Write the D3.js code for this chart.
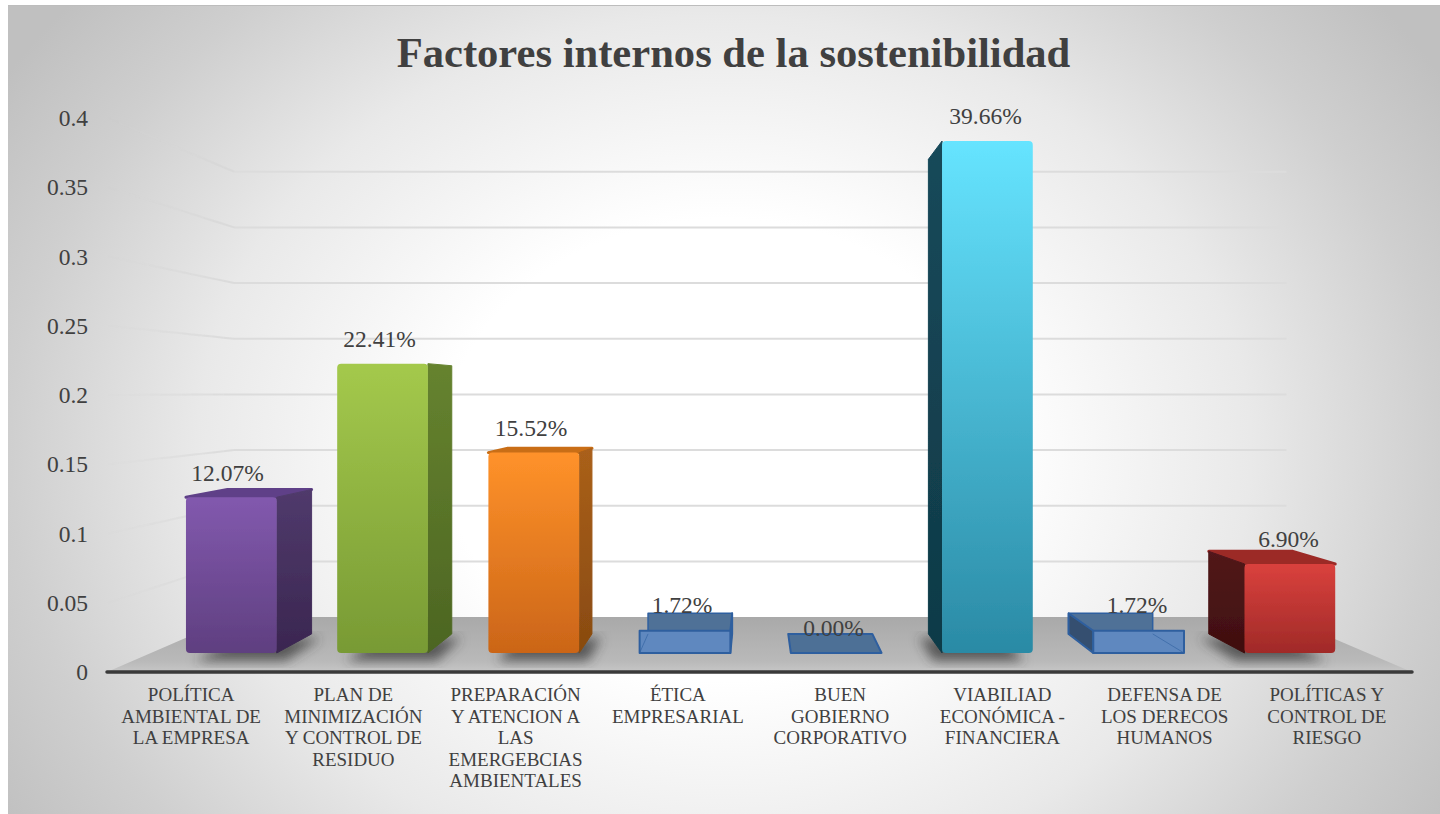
<!DOCTYPE html>
<html><head><meta charset="utf-8">
<script src="https://cdnjs.cloudflare.com/ajax/libs/d3/7.8.5/d3.min.js"></script>
<style>html,body{margin:0;background:#fff}svg{display:block}text{font-family:"Liberation Serif",serif}</style>
</head><body><svg id="c" width="1440" height="814"></svg>
<script>
const categories=["POLÍTICA AMBIENTAL DE LA EMPRESA","PLAN DE MINIMIZACIÓN Y CONTROL DE RESIDUO","PREPARACIÓN Y ATENCION A LAS EMERGEBCIAS AMBIENTALES","ÉTICA EMPRESARIAL","BUEN GOBIERNO CORPORATIVO","VIABILIAD ECONÓMICA - FINANCIERA","DEFENSA DE LOS DERECOS HUMANOS","POLÍTICAS Y CONTROL DE RIESGO"];
const categoryLines=[["POLÍTICA","AMBIENTAL DE","LA EMPRESA"],["PLAN DE","MINIMIZACIÓN","Y CONTROL DE","RESIDUO"],["PREPARACIÓN","Y ATENCION A","LAS","EMERGEBCIAS","AMBIENTALES"],["ÉTICA","EMPRESARIAL"],["BUEN","GOBIERNO","CORPORATIVO"],["VIABILIAD","ECONÓMICA -","FINANCIERA"],["DEFENSA DE","LOS DERECOS","HUMANOS"],["POLÍTICAS Y","CONTROL DE","RIESGO"]];
const values=[0.1207,0.2241,0.1552,0.0172,0,0.3966,0.0172,0.069];
const valueLabels=["12.07%","22.41%","15.52%","1.72%","0.00%","39.66%","1.72%","6.90%"];
const yTicks=[0,0.05,0.1,0.15,0.2,0.25,0.3,0.35,0.4];
const barStyles=[
 {front:["#8259ae","#5f3f80"],side:["#503a6c","#3a2650"],top:"#5f4088"},
 {front:["#a4c94c","#789a34"],side:["#66832f","#4c6522"],top:"#86a83c"},
 {front:["#ff922a","#cb6518"],side:["#aa601a","#884a10"],top:"#c96e18"},
 {glass:true},{glass:true},
 {front:["#66e4ff","#2a8aa5"],side:["#17495a","#0f3a47"],top:"#1f6478"},
 {glass:true},
 {front:["#da413d","#a02a28"],side:["#52171a","#3f0f0f"],top:"#9c2b28"}];

const svg=d3.select("#c"),defs=svg.append("defs");
const VP=[755,392];
const depth={front:0,barFront:0.068,barBack:0.136,back:0.196};
const x=d3.scaleBand().domain(categories).range([112,1410]).paddingInner(0.4).paddingOuter(0.2);
const y=d3.scaleLinear().domain([0,0.4]).range([672,118]);
const proj=(px,py,k)=>[px+k*(VP[0]-px),py+k*(VP[1]-py)];
const poly=pts=>pts.map(p=>p.join(",")).join(" ");

function grad(id,stops,attrs){const g=defs.append(attrs.radial?"radialGradient":"linearGradient").attr("id",id);
 Object.entries(attrs).forEach(([k,v])=>{if(k!=="radial")g.attr(k,v)});
 stops.forEach(s=>g.append("stop").attr("offset",s[0]).attr("stop-color",s[1]).attr("stop-opacity",s[2]==null?1:s[2]));return `url(#${id})`;}

const bgFill=grad("bg",[[0,"#ffffff"],[0.33,"#ffffff"],[0.62,"#e9e9e9"],[0.84,"#cfcfcf"],[1,"#c0c0c0"]],{radial:true,gradientUnits:"userSpaceOnUse",cx:0,cy:0,r:1,gradientTransform:"translate(724,450) scale(850,700)"});
svg.append("rect").attr("x",8).attr("y",5).attr("width",1432).attr("height",809).attr("fill",bgFill);
svg.append("line").attr("x1",8).attr("x2",1440).attr("y1",5.5).attr("y2",5.5).attr("stroke","#bdbdbd").attr("stroke-width",1);

// floor
const fl=[proj(107,y(0),0),proj(1412,y(0),0),proj(1412,y(0),depth.back),proj(107,y(0),depth.back)];
const floorFill=grad("fl",[[0,"#a9a9a9"],[0.8,"#b9b9b9"],[1,"#c6c6c6"]],{x1:0,y1:0,x2:0,y2:1});
// gridlines
yTicks.slice(1).forEach(t=>{
 const a=[108,y(t)],b=proj(107,y(t),depth.back),c=proj(1416,y(t),depth.back);
 svg.append("line").attr("x1",b[0]).attr("y1",b[1]).attr("x2",c[0]).attr("y2",c[1]).attr("stroke","#dcdcdc").attr("stroke-width",2);
 const n=12;for(let i=0;i<n;i++){const s=i/n,e=(i+1)/n;
  svg.append("line").attr("x1",a[0]+(b[0]-a[0])*s).attr("y1",a[1]+(b[1]-a[1])*s).attr("x2",a[0]+(b[0]-a[0])*e).attr("y2",a[1]+(b[1]-a[1])*e)
   .attr("stroke","#d6d6d6").attr("stroke-opacity",0.04+0.76*s).attr("stroke-width",2);}
});
svg.append("polygon").attr("points",poly(fl)).attr("fill",floorFill);
const blur=defs.append("filter").attr("id","blur").attr("x","-30%").attr("y","-30%").attr("width","160%").attr("height","160%");
blur.append("feGaussianBlur").attr("stdDeviation",6);
const soft=defs.append("filter").attr("id","soft").attr("x","-5%").attr("y","-5%").attr("width","110%").attr("height","110%");
soft.append("feGaussianBlur").attr("stdDeviation",0.6);
defs.append("clipPath").attr("id","floorClip").append("polygon").attr("points",poly(fl));

// bars
const shadows=svg.append("g").attr("clip-path","url(#floorClip)");
const bars=svg.append("g").attr("filter","url(#soft)");
categories.forEach((cat,i)=>{
 const x0=x(cat),x1=x0+x.bandwidth(),base=y(0),tv=y(values[i]),st=barStyles[i];
 const P=proj,kf=depth.barFront,kb=depth.barBack;
 const fTL=P(x0,tv,kf),fTR=P(x1,tv,kf),fBR=P(x1,base,kf),fBL=P(x0,base,kf);
 const bTL=P(x0,tv,kb),bTR=P(x1,tv,kb),bBR=P(x1,base,kb),bBL=P(x0,base,kb);
 if(st.glass){
  const g=bars.append("g").attr("stroke","#2f5f9f").attr("stroke-width",2).attr("stroke-linejoin","round");
  if(values[i]===0){g.append("polygon").attr("points",poly([bBL,bBR,fBR,fBL])).attr("fill","#4d6f96");return;}
  g.append("polygon").attr("points",poly([bTL,bTR,bBR,bBL])).attr("fill","#4f7197").attr("stroke-width",1.5);
  const sideFace=fBL[0]>VP[0]?[fTL,bTL,bBL,fBL]:[fTR,bTR,bBR,fBR];
  g.append("polygon").attr("points",poly(sideFace)).attr("fill",fBL[0]>VP[0]?"#34506f":"#4f7197");
  g.append("polygon").attr("points",poly([fTL,fTR,fBR,fBL])).attr("fill","#5f88bf");
  g.append("line").attr("x1",bBL[0]).attr("y1",bBL[1]).attr("x2",fBL[0]).attr("y2",fBL[1]).attr("stroke-opacity",.6).attr("stroke-width",1);
  g.append("line").attr("x1",bBR[0]).attr("y1",bBR[1]).attr("x2",fBR[0]).attr("y2",fBR[1]).attr("stroke-opacity",.6).attr("stroke-width",1);
  return;
 }
 const leftSide=fBL[0]>VP[0];
 const dx=leftSide?-9:9;
 shadows.append("polygon").attr("points",poly([[bBL[0]+dx,bBL[1]+4],[bBR[0]+dx,bBR[1]+4],[fBR[0]+dx,fBR[1]+8],[fBL[0]+dx,fBL[1]+8]]))
  .attr("fill","#3a3a3a").attr("fill-opacity",.75).attr("filter","url(#blur)");
 if(tv>VP[1]) bars.append("polygon").attr("points",poly([fTL,fTR,bTR,bTL])).attr("fill",st.top).attr("stroke",st.top).attr("stroke-width",3).attr("stroke-linejoin","round");
 const sideFill=grad("s"+i,[[0,st.side[0]],[1,st.side[1]]],{x1:0,y1:0,x2:0,y2:1});
 const side=leftSide?[fTL,bTL,bBL,fBL]:[fTR,bTR,bBR,fBR];
 bars.append("polygon").attr("points",poly(side)).attr("fill",sideFill).attr("stroke",sideFill).attr("stroke-width",1).attr("stroke-linejoin","round");
 const frontFill=grad("f"+i,[[0,st.front[0]],[1,st.front[1]]],{x1:0,y1:0,x2:0,y2:1});
 bars.append("rect").attr("x",fTL[0]).attr("y",fTL[1]).attr("width",fTR[0]-fTL[0]).attr("height",fBL[1]-fTL[1]).attr("rx",4).attr("fill",frontFill);
});

// axis line
svg.append("line").attr("x1",107).attr("x2",1412).attr("y1",y(0)).attr("y2",y(0)).attr("stroke","#3a3a3a").attr("stroke-width",3.5).attr("stroke-linecap","round");

// y axis
const yAxis=d3.axisLeft(y).tickValues(yTicks).tickFormat(d=>String(d)).tickSize(0).tickPadding(0);
const ga=svg.append("g").attr("transform","translate(88,0)").call(yAxis);
ga.select(".domain").remove();
ga.selectAll("text").attr("font-size",23.5).attr("fill","#404040").style("font-family",'"Liberation Serif",serif');

// title
svg.append("text").attr("x",733.5).attr("y",67).attr("text-anchor","middle").attr("font-size",42.6).attr("font-weight","bold").attr("fill","#404040").text("Factores internos de la sostenibilidad");

// value labels
const labelX=[227.5,379.5,531,682,833.5,985.5,1137,1288.5];
const labelY=[481,347,436,613,636,124,613,547];
categories.forEach((c,i)=>{
 svg.append("text").attr("x",labelX[i]).attr("y",labelY[i]).attr("text-anchor","middle").attr("font-size",23.5).attr("fill","#404040").text(valueLabels[i]);
});

// category labels
categoryLines.forEach((lines,i)=>{
 const cx=x(categories[i])+x.bandwidth()/2-2;
 const t=svg.append("text").attr("text-anchor","middle").attr("font-size",19).attr("fill","#404040");
 lines.forEach((l,j)=>t.append("tspan").attr("x",cx).attr("y",701+j*21.5).text(l));
});
</script></body></html>
